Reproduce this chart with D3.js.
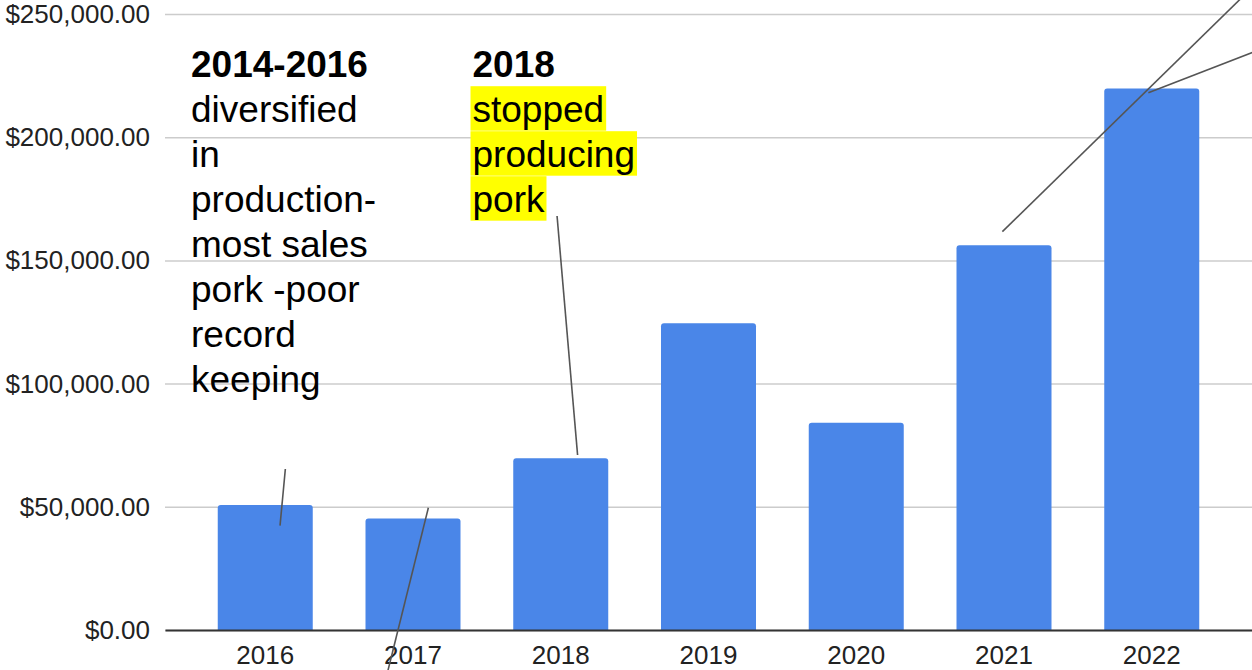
<!DOCTYPE html>
<html>
<head>
<meta charset="utf-8">
<script src="https://cdn.jsdelivr.net/npm/d3@7"></script>
<style>
  html, body { margin: 0; padding: 0; background: #fff; }
  svg { display: block; font-family: "Liberation Sans", Arial, sans-serif; }
</style>
</head>
<body>
<svg id="chart" width="1252" height="670"></svg>
<script>
// Yearly sales
const years = ["2016", "2017", "2018", "2019", "2020", "2021", "2022"];
const sales = [50700, 45300, 69700, 124500, 84100, 156100, 219800];
const yTicks = [0, 50000, 100000, 150000, 200000, 250000];

// Callout text blocks
const noteLeft = ["2014-2016", "diversified", "in", "production-", "most sales", "pork -poor", "record", "keeping"];
const noteRight = ["2018", "stopped", "producing", "pork"];

// Callout connector lines, endpoints as [year index, dollar value]
const connectors = [
  [[0.136, 65340], [0.100, 42330]],
  [[1.104, 49630], [0.828, -17050]],
  [[1.975, 168020], [2.114, 71020]],
  [[4.989, 161650], [6.600, 256100]],
  [[5.977, 218060], [6.733, 235550]]
];

const svg = d3.select("#chart");
const plot = { left: 165, right: 1252, top: 14, bottom: 630 };
const FONT = '"Liberation Sans", Arial, sans-serif';

const x = d3.scaleBand().domain(years).range([plot.left, plot.right]).padding(0.357);
const y = d3.scaleLinear().domain([0, 250000]).range([plot.bottom, plot.top]);
const xi = d3.scaleLinear().domain([0, years.length - 1])
  .range([x(years[0]) + x.bandwidth() / 2, x(years[years.length - 1]) + x.bandwidth() / 2]);

const fmt = v => "$" + d3.format(",.2f")(v);

// Gridlines and y labels
const yAxis = d3.axisLeft(y).tickValues(yTicks).tickFormat(fmt)
  .tickSize(-(plot.right - plot.left)).tickPadding(15);
const gy = svg.append("g").attr("transform", `translate(${plot.left},0)`).call(yAxis)
  .attr("font-family", FONT).attr("font-size", 26);
gy.select(".domain").remove();
gy.selectAll(".tick line").attr("stroke", "#cccccc").attr("stroke-width", 1.5);
gy.selectAll(".tick text").attr("fill", "#222").attr("dy", "0.33em");

// Bars
svg.append("g").selectAll("path").data(years).join("path")
  .attr("fill", "#4a86e8")
  .attr("d", (d, i) => {
    const x0 = x(d), w = x.bandwidth(), y0 = y(sales[i]), r = 3;
    return `M${x0},${plot.bottom} V${y0 + r} Q${x0},${y0} ${x0 + r},${y0} H${x0 + w - r} Q${x0 + w},${y0} ${x0 + w},${y0 + r} V${plot.bottom} Z`;
  });

// Baseline and x labels
const xAxis = d3.axisBottom(x).tickSize(0).tickPadding(16);
const gx = svg.append("g").attr("transform", `translate(0,${plot.bottom})`).call(xAxis)
  .attr("font-family", FONT).attr("font-size", 26);
gx.select(".domain").attr("stroke", "#333").attr("stroke-width", 2);
gx.selectAll(".tick text").attr("fill", "#222").attr("dy", "0.71em");

// Callout text
const lineH = 45, fs = 37;
function note(lines, x0, y0, highlightFrom) {
  const g = svg.append("g");
  lines.forEach((t, i) => {
    const by = y0 + i * lineH;
    const tx = g.append("text").attr("x", x0).attr("y", by)
      .attr("font-size", fs).attr("fill", "#000")
      .attr("font-weight", i === 0 ? "bold" : "normal").text(t);
    if (highlightFrom != null && i >= highlightFrom) {
      const w = tx.node().getComputedTextLength();
      g.insert("rect", "text").attr("x", x0 - 2).attr("y", by - 35.5)
        .attr("width", w + 4).attr("height", 44.5).attr("fill", "#ffff00");
    }
  });
}
note(noteLeft, 191, 76.7, null);
note(noteRight, 472.5, 76.7, 1);

// Connector lines
svg.append("g").selectAll("line").data(connectors).join("line")
  .attr("x1", d => xi(d[0][0])).attr("y1", d => y(d[0][1]))
  .attr("x2", d => xi(d[1][0])).attr("y2", d => y(d[1][1]))
  .attr("stroke", "#555").attr("stroke-width", 1.6);
</script>
</body>
</html>
